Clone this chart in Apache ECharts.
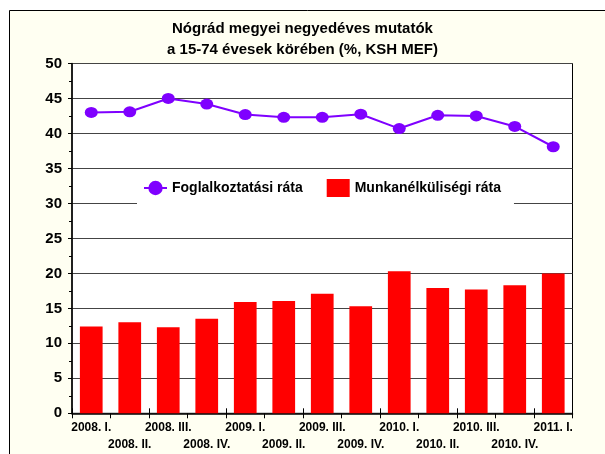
<!DOCTYPE html>
<html><head><meta charset="utf-8">
<script src="https://cdn.jsdelivr.net/npm/echarts@6/dist/echarts.min.js"></script>
<style>html,body{margin:0;padding:0;background:#fff}#c{width:605px;height:454px}</style>
</head><body><div id="c"></div>
<script>
const categories = ['2008. I.','2008. II.','2008. III.','2008. IV.','2009. I.','2009. II.','2009. III.','2009. IV.','2010. I.','2010. II.','2010. III.','2010. IV.','2011. I.'];
const employment = [43.0, 43.1, 45.0, 44.2, 42.7, 42.3, 42.3, 42.75, 40.7, 42.6, 42.5, 41.0, 38.1];
const unemployment = [12.4, 13.0, 12.3, 13.5, 15.9, 16.05, 17.1, 15.3, 20.3, 17.9, 17.7, 18.3, 20.0];
const titleLines = ['Nógrád megyei negyedéves mutatók', 'a 15-74 évesek körében (%, KSH MEF)'];
const seriesNames = ['Foglalkoztatási ráta', 'Munkanélküliségi ráta'];

const FONT = '"Liberation Sans", Arial, sans-serif';
const chart = echarts.init(document.getElementById('c'), null, {renderer: 'canvas'});
chart.setOption({
  animation: false,
  backgroundColor: '#ffffff',
  graphic: [{
    type: 'rect', z: -10, silent: true,
    shape: {x: 9.5, y: 10.5, width: 700, height: 500},
    style: {fill: '#FFFFF2', stroke: '#000', lineWidth: 1}
  }],
  title: {
    text: titleLines.join('\n'),
    left: 'center', top: 13,
    textStyle: {fontFamily: FONT, fontSize: 15, fontWeight: 'bold', color: '#000', lineHeight: 21}
  },
  legend: {
    data: [{name: seriesNames[0]}, {name: seriesNames[1], icon: 'rect'}],
    left: 137, top: 172,
    backgroundColor: '#ffffff',
    padding: [7, 13, 10, 6],
    itemGap: 24,
    itemWidth: 23, itemHeight: 18,
    textStyle: {fontFamily: FONT, fontSize: 14, fontWeight: 'bold', color: '#000'}
  },
  grid: {
    left: 72, right: 32.5, top: 63.5, bottom: 40.7,
    show: true, backgroundColor: '#ffffff', borderColor: '#000', borderWidth: 1
  },
  xAxis: [{
    type: 'category', data: categories, boundaryGap: true,
    axisLine: {show: true, lineStyle: {color: '#000', width: 1.5}},
    axisTick: {show: true, alignWithLabel: false, length: 5, lineStyle: {color: '#000'}},
    axisLabel: {
      interval: 0, margin: 6, fontFamily: FONT, fontSize: 12, fontWeight: 'bold', color: '#000', lineHeight: 17,
      formatter: (v, i) => (i % 2 === 1 ? '\n' + v : v)
    },
    splitLine: {show: false}
  }, {
    type: 'category', data: categories, boundaryGap: true, position: 'bottom',
    axisLine: {show: false},
    axisTick: {show: true, inside: true, length: 5, lineStyle: {color: '#000'}},
    axisLabel: {show: false}, splitLine: {show: false}
  }],
  yAxis: {
    type: 'value', min: 0, max: 50, interval: 5,
    axisLine: {show: true, lineStyle: {color: '#000', width: 1.5}},
    axisTick: {show: true, length: 4, lineStyle: {color: '#000'}},
    minorTick: {show: true, splitNumber: 2, length: 3, lineStyle: {color: '#000'}},
    axisLabel: {margin: 10, fontFamily: FONT, fontSize: 15, fontWeight: 'bold', color: '#000'},
    splitLine: {show: true, lineStyle: {color: '#444', width: 1}}
  },
  series: [{
    name: seriesNames[0], type: 'line', data: employment, z: 5,
    symbol: 'circle', symbolSize: [13, 11],
    lineStyle: {color: '#7F00FF', width: 2},
    itemStyle: {color: '#7F00FF'}
  }, {
    name: seriesNames[1], type: 'bar', data: unemployment, z: 2,
    barWidth: '59%',
    itemStyle: {color: '#FF0000'}
  }]
});
</script></body></html>
